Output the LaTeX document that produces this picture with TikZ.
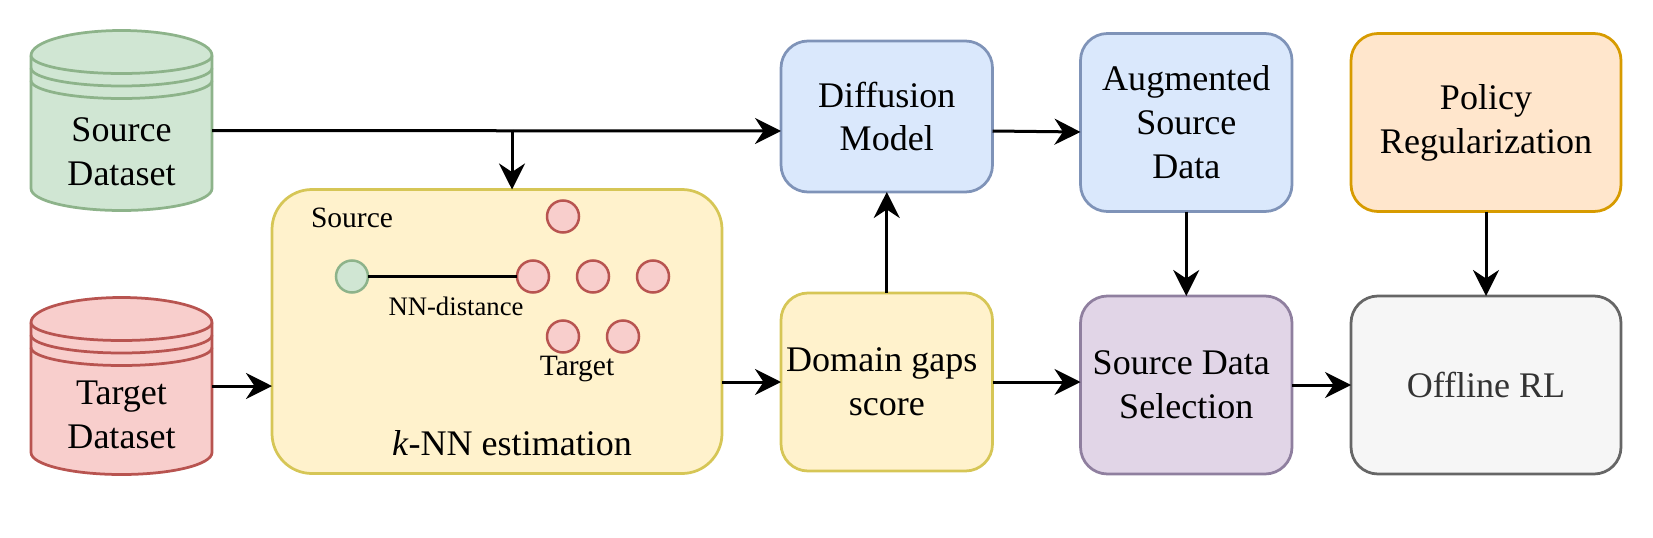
\documentclass[tikz,border=0pt]{standalone}
\usepackage{fontspec}
\setmainfont{Liberation Serif}
\usetikzlibrary{arrows.meta, positioning, backgrounds}

\definecolor{greenfill}{HTML}{D0E6D3}
\definecolor{greenline}{HTML}{8DB38A}
\definecolor{redfill}{HTML}{F8CECC}
\definecolor{redline}{HTML}{B85450}
\definecolor{yellowfill}{HTML}{FFF2CC}
\definecolor{yellowline}{HTML}{D6C656}
\definecolor{bluefill}{HTML}{DAE8FC}
\definecolor{blueline}{HTML}{7F93B8}
\definecolor{orangefill}{HTML}{FFE6CC}
\definecolor{orangeline}{HTML}{D79B00}
\definecolor{purplefill}{HTML}{E1D5E7}
\definecolor{purpleline}{HTML}{8F7F9F}
\definecolor{greyfill}{HTML}{F6F6F6}
\definecolor{greyline}{HTML}{666666}

% drum outline behind a store node
\newcommand{\drawstore}[3]{%
  \draw[line width=0.55mm, draw=#3, fill=#2] ([yshift=-.5cm]#1.north west)
    arc[start angle=180, end angle=0, x radius=1.81cm, y radius=.5cm]
    -- ([yshift=.44cm]#1.south east)
    arc[start angle=0, end angle=-180, x radius=1.81cm, y radius=.44cm] -- cycle;
  \foreach \ringshift in {.5,.75,1}
    \draw[line width=0.55mm, draw=#3] ([yshift=-\ringshift cm]#1.north west)
      arc[start angle=180, end angle=360, x radius=1.81cm, y radius=.36cm];
}

\begin{document}
\begin{tikzpicture}[
    % Style definitions
    bigtext/.style={font=\fontsize{20.5pt}{25pt}\selectfont, align=center},
    smalltext/.style={font=\fontsize{16.8pt}{19pt}\selectfont},
    store/.style={rectangle, minimum width=3.62cm, minimum height=3.6cm, inner sep=0pt, outer sep=0pt},
    block/.style={rectangle, rounded corners=5.4mm, minimum width=4.23cm, minimum height=3.56cm,
                  inner sep=0pt, outer sep=0pt, line width=0.55mm, bigtext},
    dot/.style={circle, minimum size=0.64cm, inner sep=0pt, outer sep=0pt, line width=0.5mm},
    srcdot/.style={dot, draw=greenline, fill=greenfill},
    tgtdot/.style={dot, draw=redline, fill=redfill},
    arrow/.style={-{Stealth[length=5.2mm, width=5.2mm, inset=1.7mm]}, line width=0.6mm},
]
\useasboundingbox (0,0) rectangle (33.06,-10.74);

% Data stores
\node[store] (src) at (2.43,-2.41) {};
\node[store, below=1.74cm of src, minimum height=3.54cm] (tgt) {};
\node[bigtext] (srclabel) at ([yshift=-.63cm]src.center) {Source\\Dataset};
\node[bigtext] (tgtlabel) at ([yshift=-.57cm]tgt.center) {Target\\Dataset};

% Estimation block
\node[block, draw=yellowline, fill=yellowfill, rounded corners=8mm, minimum width=9cm, minimum height=5.68cm,
      right=1.2cm of tgt, yshift=1.09cm] (knn) {};
\node[srcdot] (s0) at ([xshift=-2.9cm,yshift=1.1cm]knn.center) {};
\node[tgtdot, right=2.98cm of s0] (t1) {};
\node[tgtdot, right=0.56cm of t1] (t2) {};
\node[tgtdot, right=0.56cm of t2] (t3) {};
\node[tgtdot] (t4) at ([xshift=.6cm,yshift=1.2cm]t1.center) {};
\node[tgtdot] (t5) at ([xshift=.6cm,yshift=-1.2cm]t1.center) {};
\node[tgtdot, right=0.56cm of t5] (t6) {};
\node[smalltext] (srcname) at ([yshift=1.18cm]s0.center) {Source};
\node[smalltext, font=\fontsize{15.2pt}{19pt}\selectfont] (gapname) at ([xshift=2.08cm,yshift=-.6cm]s0.center) {NN-distance};
\node[smalltext] (tgtname) at ([xshift=.28cm,yshift=-.66cm]t5.center) {Target};
\node[bigtext] (knnname) at ([xshift=.3cm,yshift=-2.24cm]knn.center) {\textit{k}-NN estimation};

% Pipeline blocks
\node[block, draw=yellowline, fill=yellowfill, right=1.18cm of knn, yshift=-1.01cm] (dgs) {Domain gaps\kern2mm\\score};
\node[block, draw=blueline, fill=bluefill, above=2.02cm of dgs, minimum height=3.02cm] (dm) {Diffusion\\Model};
\node[block, draw=purpleline, fill=purplefill, right=1.76cm of dgs, yshift=-.06cm] (sel) {Source Data\kern2mm\\Selection};
\node[block, draw=blueline, fill=bluefill, above=1.69cm of sel] (aug) {Augmented\\Source\\Data};
\node[block, draw=greyline, fill=greyfill, text=black!80, right=1.18cm of sel, minimum width=5.4cm] (off) {Offline RL};
\node[block, draw=orangeline, fill=orangefill, above=1.69cm of off, minimum width=5.4cm] (pol) {Policy\\Regularization};

\begin{scope}[on background layer]
\drawstore{src}{greenfill}{greenline}
\drawstore{tgt}{redfill}{redline}
\end{scope}

% Arrows
\coordinate (tap) at ([xshift=.3cm,yshift=1.2cm]knn.north);
\draw[arrow] ([yshift=-.2cm]src.east) -- ([yshift=-.29cm]dm.west);
\draw[arrow] (tap) -- ([xshift=.3cm]knn.north);
\draw[arrow] (tgt.east) -- (tgt.east -| knn.west);
\draw[arrow] (knn.east |- dgs.west) -- (dgs.west);
\draw[arrow] (dgs.north) -- (dm.south);
\draw[arrow] ([yshift=-.29cm]dm.east) -- ([yshift=-.19cm]aug.west);
\draw[arrow] (dgs.east) -- (dgs.east -| sel.west);
\draw[arrow] (aug.south) -- (sel.north);
\draw[arrow] (sel.east) -- (off.west);
\draw[arrow] (pol.south) -- (off.north);
\draw[line width=0.6mm] (s0) -- (t1);

\end{tikzpicture}
\end{document}
